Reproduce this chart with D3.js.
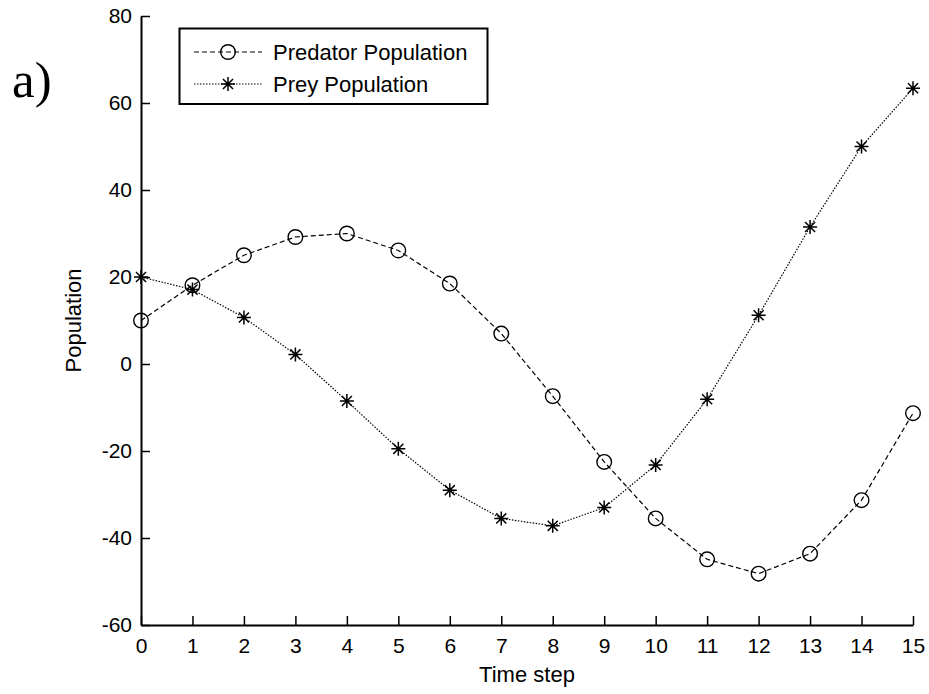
<!DOCTYPE html>
<html lang="en">
<head>
  <meta charset="utf-8">
  <title>Predator / Prey</title>
  <script src="https://d3js.org/d3.v7.min.js"></script>
  <style type="text/css">
    body { margin: 0; background: #fff; }
    text { font-family: Arial, "Liberation Sans", sans-serif; fill: #000; }
  </style>
</head>
<body>
  <script type="text/javascript">
    // data
    var timeSteps = [0, 1, 2, 3, 4, 5, 6, 7, 8, 9, 10, 11, 12, 13, 14, 15];
    var predator = [10, 18.1, 25, 29.2, 30, 26.1, 18.5, 7, -7.4, -22.5, -35.5, -44.9, -48.2, -43.6, -31.3, -11.3];
    var prey = [20, 17.1, 10.7, 2.2, -8.5, -19.5, -29, -35.5, -37.2, -33, -23.2, -8.1, 11.2, 31.5, 50, 63.4];
    var yTicks = [-60, -40, -20, 0, 20, 40, 60, 80];
    var seriesNames = ["Predator Population", "Prey Population"];

    var w = 929, h = 694;
    var margin = { top: 16, right: 16, bottom: 69, left: 141 };

    var svg = d3.select("body").append("svg")
      .attr("width", w)
      .attr("height", h);

    var x = d3.scaleLinear().domain([0, 15]).range([margin.left, w - margin.right]);
    var y = d3.scaleLinear().domain([-60, 80]).range([h - margin.bottom, margin.top]);

    // plain hyphen for negatives, like the original
    var fmt = function (d) { return String(d); };

    // axes (ticks point inward like matlab)
    var xAxis = d3.axisBottom(x).tickValues(timeSteps).tickFormat(fmt).tickSizeInner(-9).tickSizeOuter(0).tickPadding(13);
    var yAxis = d3.axisLeft(y).tickValues(yTicks).tickFormat(fmt).tickSizeInner(-9).tickSizeOuter(0).tickPadding(9);

    var gx = svg.append("g")
      .attr("transform", "translate(0," + y(-60) + ")")
      .call(xAxis);
    var gy = svg.append("g")
      .attr("transform", "translate(" + x(0) + ",0)")
      .call(yAxis);

    [gx, gy].forEach(function (g) {
      g.select(".domain").attr("stroke", "#000").attr("stroke-width", 2);
      g.selectAll(".tick line").attr("stroke", "#000").attr("stroke-width", 1.5);
      g.selectAll(".tick text").style("font-size", "21px").attr("fill", "#000");
    });

    // axis titles
    svg.append("text")
      .attr("x", (x(0) + x(15)) / 2)
      .attr("y", 682)
      .attr("text-anchor", "middle")
      .style("font-size", "22px")
      .text("Time step");

    svg.append("text")
      .attr("transform", "translate(81," + ((y(80) + y(-60)) / 2) + ") rotate(-90)")
      .attr("text-anchor", "middle")
      .style("font-size", "22px")
      .text("Population");

    svg.append("text")
      .attr("x", 12)
      .attr("y", 97)
      .style("font-family", "'Liberation Serif', 'Times New Roman', serif")
      .style("font-size", "51px")
      .text("a)");

    var line = d3.line()
      .x(function (d, i) { return x(timeSteps[i]); })
      .y(function (d) { return y(d); });

    // star marker path (matlab '*')
    function starPath(cx, cy, r) {
      var d = r * 0.72;
      return "M" + (cx - r) + "," + cy + "L" + (cx + r) + "," + cy +
        "M" + cx + "," + (cy - r) + "L" + cx + "," + (cy + r) +
        "M" + (cx - d) + "," + (cy - d) + "L" + (cx + d) + "," + (cy + d) +
        "M" + (cx - d) + "," + (cy + d) + "L" + (cx + d) + "," + (cy - d);
    }

    // predator: dashed + circles
    svg.append("path")
      .datum(predator)
      .attr("d", line)
      .attr("fill", "none")
      .attr("stroke", "#000")
      .attr("stroke-width", 1.2)
      .attr("stroke-dasharray", "5,3");

    svg.selectAll(".pred")
      .data(predator)
      .enter()
      .append("circle")
      .attr("class", "pred")
      .attr("cx", function (d, i) { return x(timeSteps[i]); })
      .attr("cy", function (d) { return y(d); })
      .attr("r", 7.3)
      .attr("fill", "none")
      .attr("stroke", "#000")
      .attr("stroke-width", 1.4);

    // prey: dotted + stars
    svg.append("path")
      .datum(prey)
      .attr("d", line)
      .attr("fill", "none")
      .attr("stroke", "#000")
      .attr("stroke-width", 1.2)
      .attr("stroke-dasharray", "1.5,1.5");

    svg.selectAll(".prey")
      .data(prey)
      .enter()
      .append("path")
      .attr("class", "prey")
      .attr("d", function (d, i) { return starPath(x(timeSteps[i]), y(d), 7); })
      .attr("fill", "none")
      .attr("stroke", "#000")
      .attr("stroke-width", 1.5);

    // legend
    var legend = svg.append("g");
    legend.append("rect")
      .attr("x", 179.5)
      .attr("y", 28.5)
      .attr("width", 308)
      .attr("height", 75.5)
      .attr("fill", "#fff")
      .attr("stroke", "#000")
      .attr("stroke-width", 2);

    var rows = [52, 84];
    legend.append("line")
      .attr("x1", 194).attr("x2", 262).attr("y1", rows[0]).attr("y2", rows[0])
      .attr("stroke", "#000").attr("stroke-width", 1.2).attr("stroke-dasharray", "5,3");
    legend.append("circle")
      .attr("cx", 228).attr("cy", rows[0]).attr("r", 7.3)
      .attr("fill", "none").attr("stroke", "#000").attr("stroke-width", 1.4);
    legend.append("line")
      .attr("x1", 194).attr("x2", 262).attr("y1", rows[1]).attr("y2", rows[1])
      .attr("stroke", "#000").attr("stroke-width", 1.2).attr("stroke-dasharray", "1.5,1.5");
    legend.append("path")
      .attr("d", starPath(228, rows[1], 7))
      .attr("fill", "none").attr("stroke", "#000").attr("stroke-width", 1.5);

    legend.selectAll(".lab")
      .data(seriesNames)
      .enter()
      .append("text")
      .attr("class", "lab")
      .attr("x", 273)
      .attr("y", function (d, i) { return rows[i]; })
      .attr("dy", "0.35em")
      .style("font-size", "22px")
      .text(function (d) { return d; });
  </script>
</body>
</html>
